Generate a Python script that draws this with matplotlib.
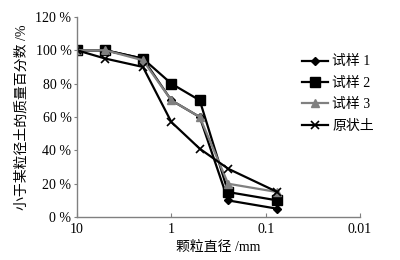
import matplotlib
matplotlib.use("Agg")
import matplotlib.pyplot as plt

plt.rcParams['font.family'] = ['Liberation Serif', 'Noto Sans CJK SC']

diam = [10, 5, 2, 1, 0.5, 0.25, 0.075]
s1 = [100, 100, 95, 70, 60, 10, 5]
s2 = [100, 100, 95, 80, 70, 15, 10]
s3 = [100, 100, 94, 70, 60, 20, 15]
orig = [100, 95, 90, 57, 41, 29, 15]
names = ['试样 1', '试样 2', '试样 3', '原状土']
yticks = [0, 20, 40, 60, 80, 100, 120]
xticks = [10, 1, 0.1, 0.01]
xticklabels = ['10', '1', '0.1', '0.01']

fig = plt.figure(figsize=(4, 2.6), dpi=100)
ax = fig.add_axes([0.1925, 0.165, 0.7075, 0.77])

ax.plot(diam, s1, color='black', lw=1.6, marker='D', ms=4.5, label=names[0])
ax.plot(diam, s2, color='black', lw=1.6, marker='s', ms=6.5, label=names[1])
ax.plot(diam, s3, color='#808080', lw=1.6, marker='^', ms=6, label=names[2])
ax.plot(diam, orig, color='black', lw=1.6, marker='x', ms=6, mew=1.2, label=names[3])

ax.set_xscale('log')
ax.set_xlim(10, 0.01)
ax.set_ylim(0, 120)
ax.set_xticks(xticks)
ax.set_xticklabels(xticklabels)
ax.minorticks_off()
ax.set_yticks(yticks)
ax.set_yticklabels([f'{v} %' for v in yticks])

for s in ['top', 'right']:
    ax.spines[s].set_visible(False)
for s in ['left', 'bottom']:
    ax.spines[s].set_color('#808080')
    ax.spines[s].set_linewidth(1.0)
ax.tick_params(axis='x', direction='in', length=3, color='#808080', labelsize=10, pad=4)
ax.tick_params(axis='y', direction='out', length=2, color='#808080', labelsize=10, pad=2)

ax.set_xlabel('颗粒直径 /mm', fontsize=10, labelpad=4)
ax.set_ylabel('小于某粒径土的质量百分数 /%', fontsize=10, labelpad=5)

leg = ax.legend(loc='upper left', bbox_to_anchor=(0.775, 0.835), frameon=False,
                fontsize=10, handlelength=1.9, handletextpad=0.3, labelspacing=0.6,
                borderaxespad=0)

fig.savefig('out.png', dpi=100)
